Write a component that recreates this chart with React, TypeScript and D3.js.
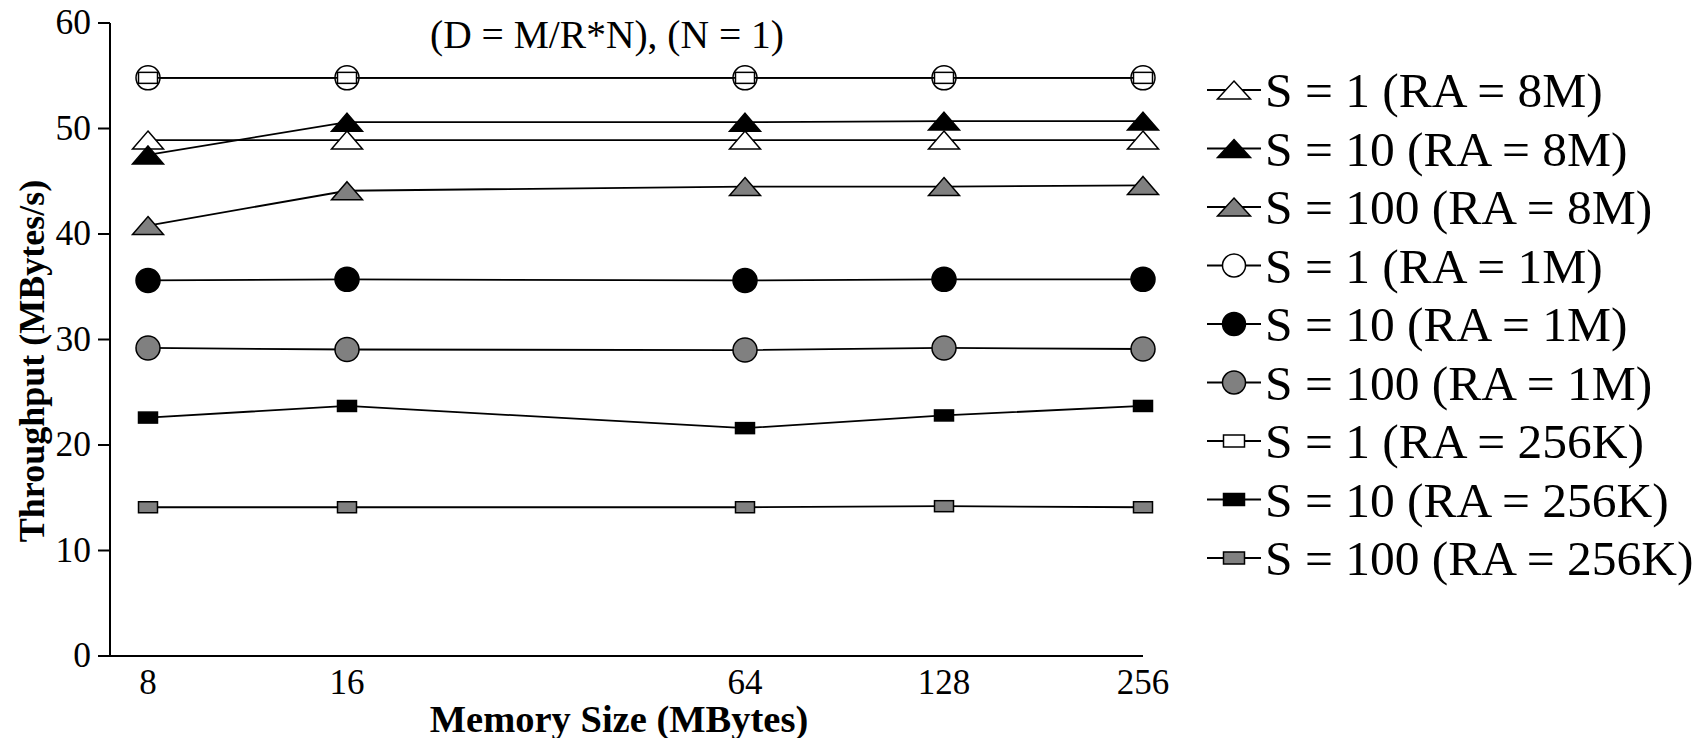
import React from 'react';
import * as d3 from 'd3';

const W = 1698;
const H = 738;

const memorySizes = [8, 16, 64, 128, 256];
const yTicks = [0, 10, 20, 30, 40, 50, 60];

const s1_ra8M = [48.9, 48.9, 48.9, 48.9, 48.9];
const s10_ra8M = [47.5, 50.6, 50.6, 50.7, 50.7];
const s100_ra8M = [40.8, 44.1, 44.5, 44.5, 44.6];
const s1_ra1M = [54.8, 54.8, 54.8, 54.8, 54.8];
const s10_ra1M = [35.6, 35.7, 35.6, 35.7, 35.7];
const s100_ra1M = [29.2, 29.05, 29.0, 29.2, 29.1];
const s1_ra256K = [54.8, 54.8, 54.8, 54.8, 54.8];
const s10_ra256K = [22.6, 23.7, 21.6, 22.8, 23.7];
const s100_ra256K = [14.1, 14.1, 14.1, 14.2, 14.1];

const seriesLabels = [
  'S = 1 (RA = 8M)',
  'S = 10 (RA = 8M)',
  'S = 100 (RA = 8M)',
  'S = 1 (RA = 1M)',
  'S = 10 (RA = 1M)',
  'S = 100 (RA = 1M)',
  'S = 1 (RA = 256K)',
  'S = 10 (RA = 256K)',
  'S = 100 (RA = 256K)',
];

const title = '(D = M/R*N), (N = 1)';
const xTitle = 'Memory Size (MBytes)';
const yTitle = 'Throughput (MBytes/s)';

type Shape = 'triangle' | 'circle' | 'rect';

const seriesValues = [
  s1_ra8M, s10_ra8M, s100_ra8M,
  s1_ra1M, s10_ra1M, s100_ra1M,
  s1_ra256K, s10_ra256K, s100_ra256K,
];
const shapes: Shape[] = ['triangle', 'triangle', 'triangle', 'circle', 'circle', 'circle', 'rect', 'rect', 'rect'];
const fills = ['#ffffff', '#000000', '#808080', '#ffffff', '#000000', '#808080', '#ffffff', '#000000', '#808080'];

const FONT = '"Liberation Serif", "Times New Roman", Times, serif';

function Marker({ shape, fill, cx, cy, legend }: { shape: Shape; fill: string; cx: number; cy: number; legend?: boolean }) {
  const sw = 1.5;
  if (shape === 'triangle') {
    const w = legend ? 33 : 31;
    const h = 18;
    const d = `M${cx},${cy - h / 2}L${cx + w / 2},${cy + h / 2}L${cx - w / 2},${cy + h / 2}Z`;
    return <path d={d} fill={fill} stroke="#000" strokeWidth={sw} strokeLinejoin="miter" />;
  }
  if (shape === 'circle') {
    const r = legend ? 11.5 : 12;
    return <circle cx={cx} cy={cy} r={r} fill={fill} stroke="#000" strokeWidth={sw} />;
  }
  const w = legend ? 21 : 19;
  const h = legend ? 12 : 11;
  return <rect x={cx - w / 2} y={cy - h / 2} width={w} height={h} fill={fill} stroke="#000" strokeWidth={sw} />;
}

export default function App() {
  const x = d3.scaleLog().base(2).domain([8, 256]).range([148, 1143]);
  const y = d3.scaleLinear().domain([0, 60]).range([656, 23]);
  const axisLeft = 110;
  const axisRight = x(256);

  const line = d3
    .line<number>()
    .x((_, i) => x(memorySizes[i]))
    .y((d) => y(d));

  const legendX0 = 1207;
  const legendX1 = 1261;
  const legendMX = 1234;
  const legendTX = 1265;
  const legendY0 = 90;
  const legendStep = 58.5;

  return (
    <svg
      width={W}
      height={H}
      viewBox={`0 0 ${W} ${H}`}
      style={{ position: 'absolute', left: 0, top: 0, background: '#fff' }}
      fontFamily={FONT}
    >
      <rect x={0} y={0} width={W} height={H} fill="#fff" />

      {/* axes */}
      <line x1={axisLeft} y1={y(60)} x2={axisLeft} y2={y(0)} stroke="#000" strokeWidth={2} />
      <line x1={axisLeft} y1={y(0)} x2={axisRight} y2={y(0)} stroke="#000" strokeWidth={2} />
      {yTicks.map((t) => (
        <g key={t}>
          <line x1={axisLeft - 12} y1={y(t)} x2={axisLeft} y2={y(t)} stroke="#000" strokeWidth={2} />
          <text x={91} y={y(t) + 11} textAnchor="end" fontSize={35.5} fill="#000">
            {t}
          </text>
        </g>
      ))}
      {memorySizes.map((m) => (
        <text key={m} x={x(m)} y={694} textAnchor="middle" fontSize={35} fill="#000">
          {m}
        </text>
      ))}

      {/* titles */}
      <text x={607} y={48} textAnchor="middle" fontSize={39.5} fill="#000">
        {title}
      </text>
      <text x={619} y={732} textAnchor="middle" fontSize={38.5} fontWeight="bold" fill="#000">
        {xTitle}
      </text>
      <text
        transform={`translate(44, 361) rotate(-90)`}
        textAnchor="middle"
        fontSize={36}
        fontWeight="bold"
        fill="#000"
      >
        {yTitle}
      </text>

      {/* series */}
      {seriesValues.map((vals, si) => (
        <g key={si}>
          <path d={line(vals) || ''} fill="none" stroke="#000" strokeWidth={1.8} />
          {vals.map((v, i) => (
            <Marker key={i} shape={shapes[si]} fill={fills[si]} cx={x(memorySizes[i])} cy={y(v)} />
          ))}
        </g>
      ))}

      {/* legend */}
      {seriesLabels.map((lab, i) => {
        const ly = legendY0 + i * legendStep;
        return (
          <g key={lab}>
            <line x1={legendX0} y1={ly} x2={legendX1} y2={ly} stroke="#000" strokeWidth={1.8} />
            <Marker shape={shapes[i]} fill={fills[i]} cx={legendMX} cy={ly} legend />
            <text x={legendTX} y={ly + 17} fontSize={49.5} fill="#000">
              {lab}
            </text>
          </g>
        );
      })}
    </svg>
  );
}
